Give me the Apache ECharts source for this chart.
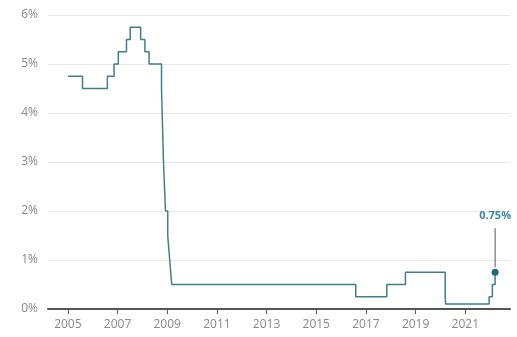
<!DOCTYPE html>
<html>
<head>
<meta charset="utf-8">
<script src="https://cdn.jsdelivr.net/npm/echarts@6/dist/echarts.min.js"></script>
<style>
    html, body { margin: 0; padding: 0; background: #fff; }
    #chart { width: 517px; height: 337px; }
</style>
</head>
<body>
<div id="chart"></div>
<script>
    // Bank Rate change dates (decimal years) and new rate (%)
    var dates = [2005.0, 2005.59, 2006.59, 2006.86, 2007.03, 2007.36, 2007.51, 2007.93,
        2008.1, 2008.27, 2008.77, 2008.85, 2008.93, 2009.02, 2009.1, 2009.18,
        2016.59, 2017.84, 2018.59, 2020.19, 2020.21, 2021.96, 2022.09, 2022.2];
    var rates = [4.75, 4.5, 4.75, 5.0, 5.25, 5.5, 5.75, 5.5,
        5.25, 5.0, 4.5, 3.0, 2.0, 1.5, 1.0, 0.5,
        0.25, 0.5, 0.75, 0.25, 0.1, 0.25, 0.5, 0.75];
    var yearTicks = [2005, 2007, 2009, 2011, 2013, 2015, 2017, 2019, 2021];
    var lastLabel = '0.75%';

    var seriesData = dates.map(function (d, i) { return [d, rates[i]]; });
    var lastPoint = seriesData[seriesData.length - 1];

    var chart = echarts.init(document.getElementById('chart'));

    chart.setOption({
        animation: false,
        grid: { left: 48, right: 7, top: 15, bottom: 28 },
        xAxis: {
            type: 'value',
            min: 2004.2,
            max: 2022.8,
            splitLine: { show: false },
            axisLine: { show: true, lineStyle: { color: '#555', width: 2 } },
            axisTick: {
                show: true,
                customValues: yearTicks,
                length: 5,
                lineStyle: { color: '#555' }
            },
            axisLabel: {
                customValues: yearTicks,
                color: '#888',
                fontSize: 12,
                fontFamily: 'Open Sans',
                margin: 10,
                formatter: function (v) { return String(Math.round(v)); }
            }
        },
        yAxis: {
            type: 'value',
            min: 0,
            max: 6,
            interval: 1,
            axisLine: { show: false },
            axisTick: { show: false },
            splitLine: { lineStyle: { color: '#e8e8e8', width: 1 } },
            axisLabel: {
                color: '#888',
                fontSize: 12,
                fontFamily: 'Open Sans',
                margin: 10,
                formatter: '{value}%'
            }
        },
        series: [
            {
                type: 'line',
                step: 'end',
                data: seriesData,
                symbol: 'none',
                lineStyle: { color: '#3f7f8c', width: 1.5 },
                z: 3
            },
            {
                type: 'custom',
                data: [lastPoint],
                z: 5,
                renderItem: function (params, api) {
                    var p = api.coord([api.value(0), api.value(1)]);
                    return {
                        type: 'group',
                        children: [
                            {
                                type: 'line',
                                shape: { x1: p[0], y1: p[1] - 5, x2: p[0], y2: p[1] - 44 },
                                style: { stroke: '#555', lineWidth: 1 }
                            },
                            {
                                type: 'circle',
                                shape: { cx: p[0], cy: p[1], r: 3.5 },
                                style: { fill: '#1f6e72' }
                            },
                            {
                                type: 'text',
                                style: {
                                    x: p[0],
                                    y: p[1] - 51,
                                    text: lastLabel,
                                    fill: '#3a86a8',
                                    font: 'bold 11px "Open Sans"',
                                    align: 'center',
                                    verticalAlign: 'bottom'
                                }
                            }
                        ]
                    };
                }
            }
        ]
    });
</script>
</body>
</html>
